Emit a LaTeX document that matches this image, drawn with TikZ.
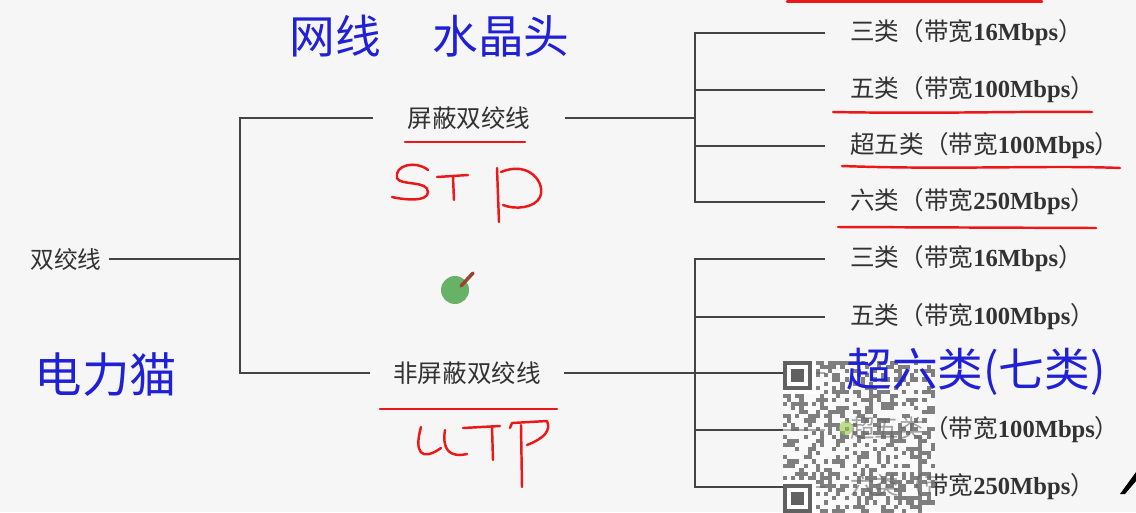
\documentclass[tikz,border=0pt]{standalone}
\usepackage{fontspec}
\setmainfont{Liberation Serif}
\newfontfamily\cjk{Noto Sans CJK SC}

\definecolor{paper}{RGB}{246,246,246}
\definecolor{wiregray}{RGB}{68,68,68}
\definecolor{textgray}{RGB}{50,50,50}
\definecolor{penred}{RGB}{236,24,24}
\definecolor{penblue}{RGB}{32,32,214}
\definecolor{dotgreen}{RGB}{104,178,104}
\definecolor{penbrown}{RGB}{150,70,50}

\newcommand{\rate}[1]{{\rmfamily\bfseries #1}}
\def\qrmod{4.1}

\begin{document}
\begin{tikzpicture}[x=0.02cm, y=-0.02cm,
    wire/.style={draw=wiregray, line width=1.1pt},
    rootlbl/.style={font=\cjk\fontsize{13.5}{16}\selectfont, text=textgray, inner xsep=0.14cm},
    branch/.style={font=\cjk\fontsize{14}{16}\selectfont, text=textgray, inner xsep=0.68cm},
    leaf/.style={anchor=west, font=\cjk\fontsize{14}{16}\selectfont, text=textgray, inner xsep=0.5cm},
    note/.style={font=\cjk\fontsize{26}{30}\selectfont, text=penblue, inner sep=0pt},
    ink/.style={draw=penred, line width=1.4pt, line cap=round, line join=round},
    qrbit/.style={fill=black!62, opacity=0.8}]

    \useasboundingbox (0,0) rectangle (1136,512);
    \fill[paper] (0,0) rectangle (1136,512);

    % Root and the two kinds of cable
    \node[rootlbl] (twisted) at (66,259) {双绞线};
    \node[branch] (stp) at (469,118) {屏蔽双绞线};
    \node[branch, inner xsep=0.45cm] (utp) at (467,373) {非屏蔽双绞线};

    \coordinate (rootfork) at (240,259);
    \draw[wire] (twisted.east) -- (rootfork);
    \draw[wire] (stp.west) -| (rootfork) |- (utp.west);

    % Shielded: four categories
    \foreach \nm/\yy/\txt in {s3/33/{三类（带宽\rate{16Mbps}）},
                              s5/90/{五类（带宽\rate{100Mbps}）},
                              s5e/146/{超五类（带宽\rate{100Mbps}）},
                              s6/202/{六类（带宽\rate{250Mbps}）}}{
        \node[leaf] (\nm) at (825,\yy) {\txt};
    }
    \coordinate (stpfork) at (695,118);
    \draw[wire] (stp.east) -- (stpfork);
    \draw[wire] (s3.west) -| (stpfork) |- (s6.west);
    \foreach \nm in {s5,s5e}
        \draw[wire] (stpfork |- \nm.west) -- (\nm.west);

    % Unshielded: five categories
    \foreach \nm/\yy/\txt in {u3/259/{三类（带宽\rate{16Mbps}）},
                              u5/317/{五类（带宽\rate{100Mbps}）},
                              u5e/430/{超五类（带宽\rate{100Mbps}）},
                              u6/487/{六类（带宽\rate{250Mbps}）}}{
        \node[leaf] (\nm) at (825,\yy) {\txt};
    }
    \coordinate (utpfork) at (695,373);
    \coordinate (u4) at (825,373);
    \draw[wire] (utp.east) -- (utpfork) -- (u4);
    \draw[wire] (u3.west) -| (utpfork) |- (u6.west);
    \foreach \nm in {u5,u5e}
        \draw[wire] (utpfork |- \nm.west) -- (\nm.west);

    % Red pen marks
    \draw[ink] (787,1.5) -- (1042,1.5);
    \draw[ink] (833,112) .. controls (940,114) and (1020,111) .. (1092,112);
    \draw[ink] (842,166) .. controls (950,170) and (1050,165) .. (1120,168);
    \draw[ink] (838,227) -- (1096,228);
    \draw[ink] (405,142) -- (525,142);
    \draw[ink] (380,409) -- (557,409);

    % STP
    \draw[ink] (428,170) .. controls (416,160) and (394,165) .. (397,178)
               .. controls (400,186) and (428,180) .. (428,192)
               .. controls (428,202) and (405,200) .. (392,197);
    \draw[ink] (437,177) -- (468,175);
    \draw[ink] (453,177) -- (454,200);
    \draw[ink] (497,168) -- (499,222);
    \draw[ink] (501,172) .. controls (530,160) and (546,184) .. (540,197)
               .. controls (535,208) and (515,210) .. (503,205);

    % UTP
    \draw[ink] (421,427) .. controls (414,452) and (421,462) .. (441,448);
    \draw[ink] (445,430) .. controls (442,449) and (449,458) .. (467,454);
    \draw[ink] (463,428) -- (500,426);
    \draw[ink] (492,427) -- (493,460);
    \draw[ink] (510,428) -- (512,423) -- (547,421)
               .. controls (551,430) and (545,438) .. (527,445);
    \draw[ink] (521,425) -- (522,487);

    % green pointer dot
    \fill[dotgreen] (455,290) circle[radius=14];
    \draw[penbrown, line width=2pt, line cap=round] (461,286) -- (473,273);

    % QR code overlay
    \fill[white, opacity=0.55] (783,361) rectangle ++(37*\qrmod,37*\qrmod);
    \foreach \i in {0,...,36}{
        \foreach \j in {0,...,36}{
            \pgfmathtruncatemacro\bit{mod(3*mod(\i*\i,11)+5*mod(\j*\j,13)+7*mod(\i*\j,17)+\i+2*\j,5)<2}
            \ifnum\bit=1
                \fill[qrbit] (783+\qrmod*\i,361+\qrmod*\j) rectangle ++(\qrmod,\qrmod);
            \fi
        }
    }
    \foreach \fx/\fy/\wx/\wy in {0/0/0/0, 0/30/0/29}{
        \fill[white] (783+\qrmod*\wx,361+\qrmod*\wy) rectangle ++(8*\qrmod,8*\qrmod);
        \draw[black!62, line width=0.082cm] (783+\qrmod*\fx+0.5*\qrmod,361+\qrmod*\fy+0.5*\qrmod) rectangle ++(6*\qrmod,6*\qrmod);
        \fill[black!62] (783+\qrmod*\fx+2*\qrmod,361+\qrmod*\fy+2*\qrmod) rectangle ++(3*\qrmod,3*\qrmod);
    }
    \fill[dotgreen!70!yellow, opacity=0.6] (846,428) circle[radius=7];

    % Blue notes
    \node[note] (cable) at (335,36) {网线};
    \node[note] (plug) at (501,36) {水晶头};
    \node[note, font=\cjk\fontsize{27}{30}\selectfont] (plc) at (106,375) {电力猫};
    \node[note, anchor=west] (cat7) at (846,372) {超六类(七类)};

    % pen cursor
    \fill[black] (1120,494) -- (1136,472) -- (1136,481) -- (1125,494) -- cycle;
\end{tikzpicture}
\end{document}
